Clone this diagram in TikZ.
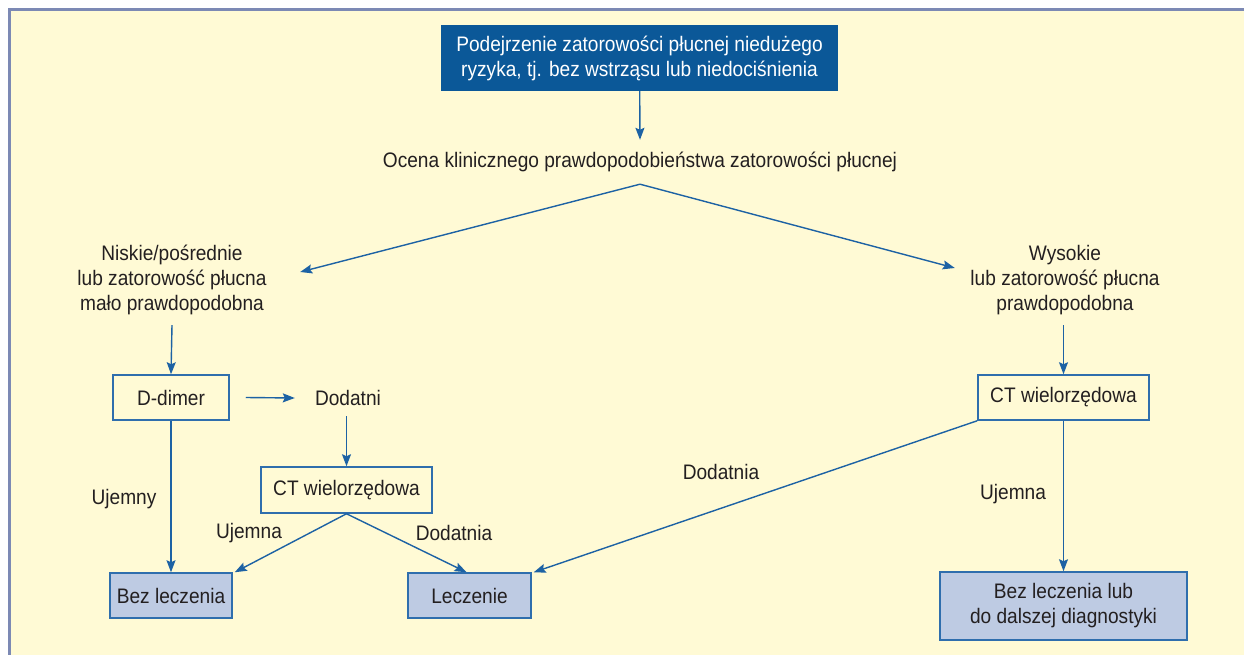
\documentclass[tikz,border=0pt]{standalone}
\usepackage{fontspec}
\setmainfont{Liberation Sans}[FakeStretch=0.91]
\usetikzlibrary{arrows.meta}
\definecolor{bgyellow}{HTML}{FFFAD5}
\definecolor{framecol}{HTML}{7C89B4}
\definecolor{darkblue}{HTML}{0B5898}
\definecolor{arrcol}{HTML}{1D62A4}
\definecolor{boxline}{HTML}{2F6EAD}
\definecolor{lightblue}{HTML}{BECBE3}
\definecolor{txtcol}{HTML}{231F20}

\begin{document}
\begin{tikzpicture}
        [x=1pt, y=-1pt,
        every node/.style={font=\fontsize{21}{25}\selectfont, text=txtcol, align=center, inner sep=0pt},
        box/.style={draw=boxline, line width=1.5pt, fill=bgyellow},
        fillbox/.style={box, fill=lightblue},
        topbox/.style={fill=darkblue, text=white},
        arr/.style={-{Stealth[length=12pt,width=9pt,inset=2pt]}, draw=arrcol, fill=arrcol, line width=1.4pt}]
        \useasboundingbox (0,0) rectangle (1244,655);
        \fill[bgyellow] (9.5,9.5) rectangle (1244,655);
        \draw[framecol, line width=3pt] (9.5,655) -- (9.5,9.5) -- (1244,9.5);

        \node (top) at (639.5,58) [topbox, minimum width=397pt, minimum height=66pt]
           {Podejrzenie zatorowości płucnej niedużego\\ryzyka, tj. bez wstrząsu lub niedociśnienia};
        \node (ocena) at (640,162) [minimum height=44pt]
           {Ocena klinicznego prawdopodobieństwa zatorowości płucnej};
        \node (niski) at (172,280) [minimum width=256pt, minimum height=90pt]
           {Niskie/pośrednie\\lub zatorowość płucna\\mało prawdopodobna};
        \node (wysokie) at (1065,280) [minimum width=220pt, minimum height=90pt]
           {Wysokie\\lub zatorowość płucna\\prawdopodobna};
        \node (ddimer) at (171,397.5) [box, minimum width=116pt, minimum height=45pt] {D-dimer};
        \node (dodatni) at (348,398) [minimum width=106pt, minimum height=36pt] {Dodatni};
        \node (ctlewe) at (346.5,490) [box, minimum width=171pt, minimum height=46pt] {CT wielorzędowa};
        \node (ctprawe) at (1063.5,397.5) [box, minimum width=171pt, minimum height=45pt] {CT wielorzędowa};
        \node (bez) at (171,595.5) [fillbox, minimum width=122pt, minimum height=45pt] {Bez leczenia};
        \node (leczenie) at (469.5,595.5) [fillbox, minimum width=123pt, minimum height=45pt] {Leczenie};
        \node (dalsza) at (1063.5,606) [fillbox, minimum width=247pt, minimum height=68pt]
           {Bez leczenia lub\\do dalszej diagnostyki};

        % etykiety przy strzalkach
        \node (ujemny) at (124,499) {Ujemny};
        \node (ujemnaL) at (249,533) {Ujemna};
        \node (dodatniaL) at (454,533) {Dodatnia};
        \node (dodatniaP) at (721,472) {Dodatnia};
        \node (ujemnaP) at (1013,494) {Ujemna};

        \draw[arr] (top) -- (ocena.north);
        \draw[arr] (ocena.south) -- ([yshift=8pt]niski.east);
        \draw[arr] (ocena.south) -- ([yshift=12pt]wysokie.west);
        \draw[arr] (niski.south) -- (ddimer.north);
        \draw[arr] (wysokie.south -| ctprawe) -- (ctprawe.north);
        \draw[arr] ([xshift=16pt]ddimer.east) -- (dodatni.west);
        \draw[arr] (dodatni.south -| ctlewe) -- (ctlewe.north);
        \draw[arr] (ddimer.south) -- (bez.north);
        \draw[arr] (ctlewe.south) -- ([xshift=2pt]bez.north east);
        \draw[arr] (ctlewe.south) -- ([xshift=-3pt]leczenie.north);
        \draw[arr] (ctprawe.south west) -- ([xshift=2pt]leczenie.north east);
        \draw[arr] (ctprawe.south) -- (dalsza.north);
\end{tikzpicture}
\end{document}
